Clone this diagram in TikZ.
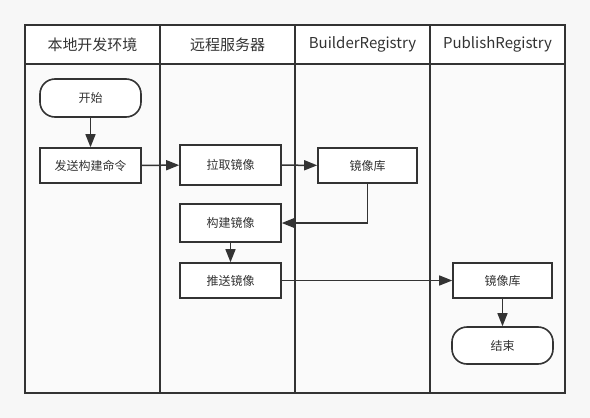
\documentclass[tikz,border=0pt]{standalone}
\usepackage{fontspec}
\setmainfont{Noto Sans CJK SC}
\usetikzlibrary{arrows.meta, positioning}
\definecolor{inkgray}{RGB}{51, 51, 51}
\definecolor{pagegray}{RGB}{247, 247, 247}
\definecolor{lanegray}{RGB}{250, 250, 250}

\tikzset{
  lane/.style={draw=inkgray, line width=1.9pt, fill=lanegray},
  lanehead/.style={draw=inkgray, line width=1.9pt, fill=white, minimum width=135pt, minimum height=39pt, inner sep=0pt, text=inkgray, font=\fontsize{15}{18}\selectfont},
  procbox/.style={draw=inkgray, line width=1.6pt, fill=white, minimum width=101pt, minimum height=35pt, inner sep=0pt, text=inkgray, font=\fontsize{12}{14}\selectfont},
  termbox/.style={procbox, minimum height=38pt, rounded corners=15pt},
  flow/.style={draw=inkgray, line width=1.5pt, -{Triangle[length=13pt, width=10pt]}}
}

\begin{document}
\begin{tikzpicture}[x=1pt, y=-1pt]
  \fill[pagegray] (0,0) rectangle (590,418);
  \useasboundingbox (0,0) rectangle (590,418);

  % swimlanes
  \foreach \i/\name/\title in {0/local/本地开发环境, 1/remote/远程服务器, 2/builder/BuilderRegistry, 3/publish/PublishRegistry} {
    \draw[lane] (25+135*\i,25) rectangle +(135,368);
    \node[lanehead] (head-\name) at (92.5+135*\i,44.5) {\title};
  }

  % steps
  \node[termbox] (start) at (90.5,98) {开始};
  \node[procbox] (send) at (90.5,165.5) {发送构建命令};
  \node[procbox, minimum height=40pt] (pull) at (230.5,165) {拉取镜像};
  \node[procbox, minimum width=99pt] (builderrepo) at (367.5,165.5) {镜像库};
  \node[procbox, minimum height=38pt] (build) at (230.5,223) {构建镜像};
  \node[procbox] (push) at (230.5,280.5) {推送镜像};
  \node[procbox, minimum width=99pt] (publishrepo) at (502.5,280.5) {镜像库};
  \node[termbox, minimum height=37pt] (finish) at (502.5,345.5) {结束};

  % connectors
  \draw[flow] (start) -- (send);
  \draw[flow] (send) -- (pull);
  \draw[flow] (pull) -- (builderrepo);
  \draw[flow] (builderrepo.south) |- (build.east);
  \draw[flow] (build) -- (push);
  \draw[flow] (push) -- (publishrepo);
  \draw[flow] (publishrepo) -- (finish);
\end{tikzpicture}
\end{document}
